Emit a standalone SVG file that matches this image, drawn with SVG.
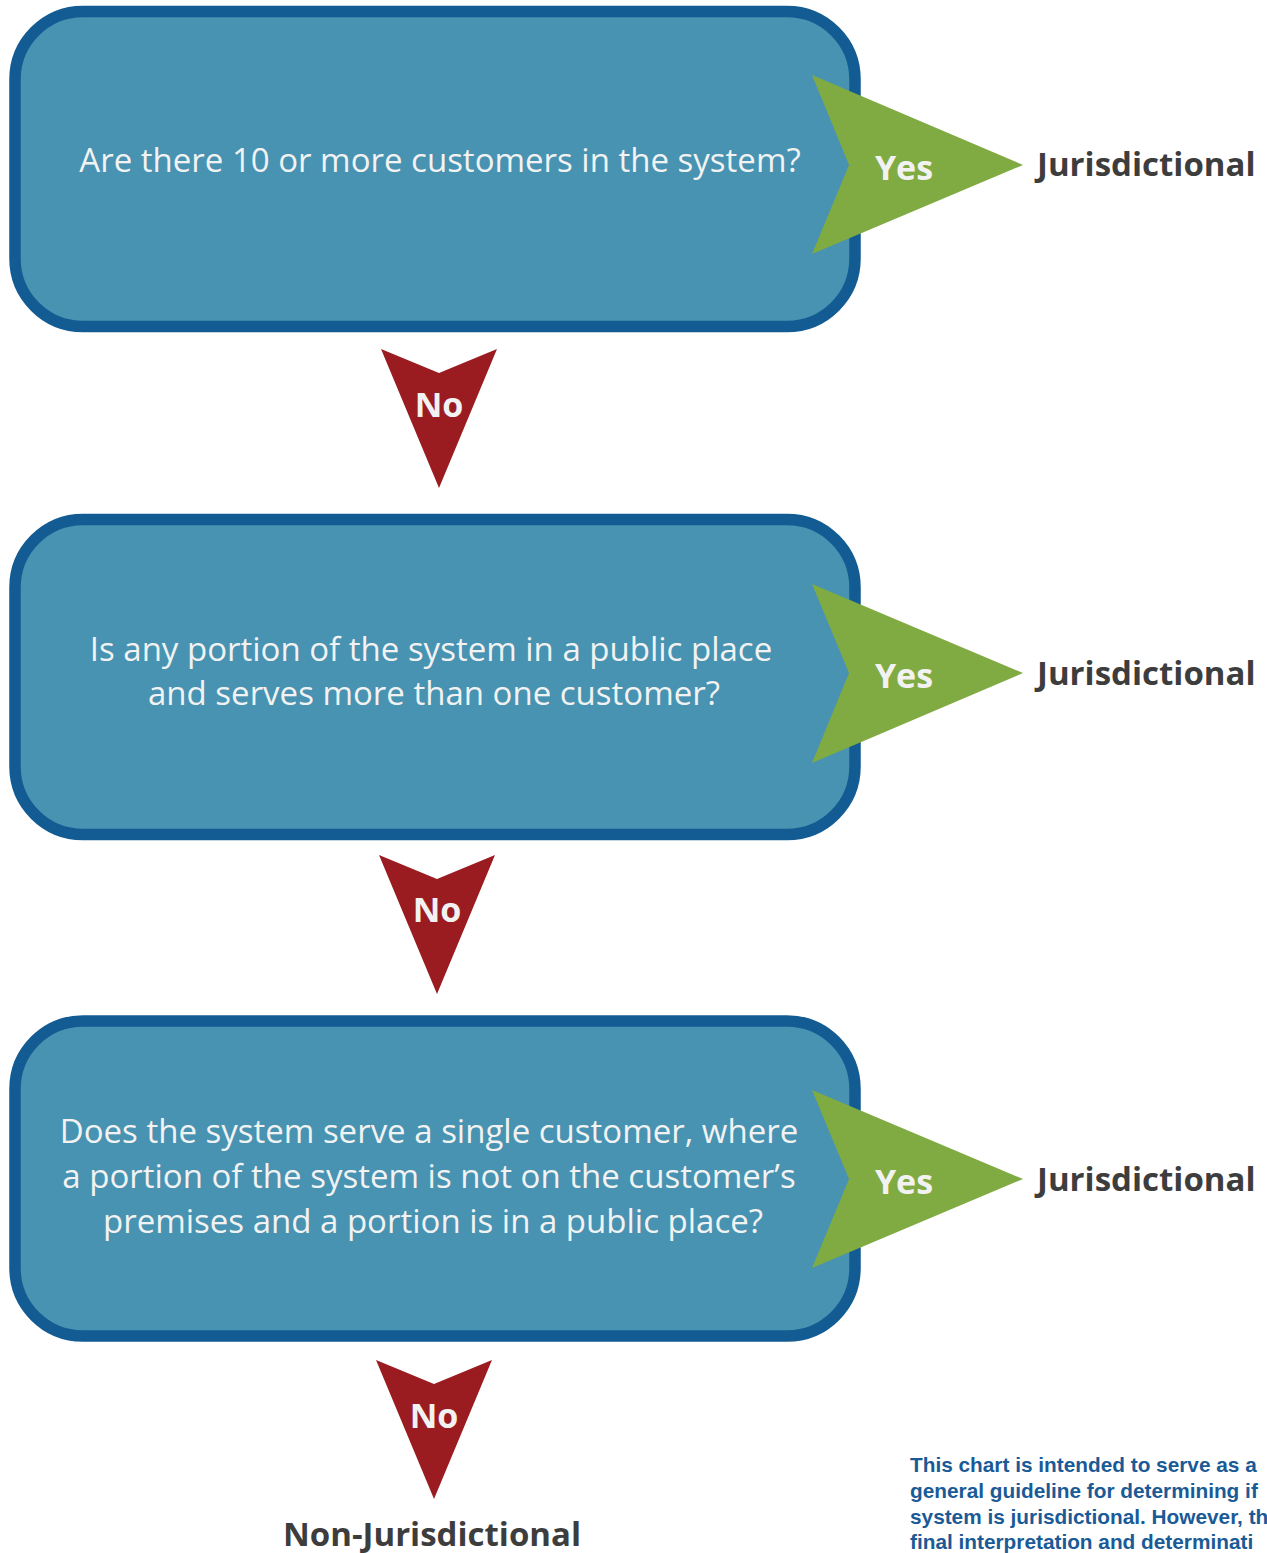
<svg xmlns="http://www.w3.org/2000/svg" width="1267" height="1553" viewBox="0 0 1267 1553">
<style>
.box{fill:#4793b1;stroke:#135c93;stroke-width:11.5}
.q{font-family:"Open Sans","Liberation Sans",sans-serif;font-size:33px;fill:#f2f2f2;text-anchor:middle}
.yes{fill:#80aa42}
.no{fill:#9b1c20}
.lbl{font-family:"Open Sans","Liberation Sans",sans-serif;font-weight:bold;font-size:34px;fill:#f2f2f2;text-anchor:middle}
.res{font-family:"Open Sans","Liberation Sans",sans-serif;font-weight:bold;font-size:33px;fill:#3d3d3d}
.note{font-family:"Liberation Sans",Arial,sans-serif;font-weight:bold;font-size:20.8px;fill:#1a5a96}
</style>
<rect width="1267" height="1553" fill="#ffffff"/>
<g id="q1">
<rect class="box" x="15" y="11.5" width="840" height="315" rx="68"/>
<text class="q" x="440" y="172">Are there 10 or more customers in the system?</text>
</g>
<g id="q2">
<rect class="box" x="15" y="519.5" width="840" height="315" rx="68"/>
<text class="q" x="431" y="661">Is any portion of the system in a public place</text>
<text class="q" x="434" y="705">and serves more than one customer?</text>
</g>
<g id="q3">
<rect class="box" x="15" y="1021" width="840" height="315" rx="68"/>
<text class="q" x="429" y="1143">Does the system serve a single customer, where</text>
<text class="q" x="429" y="1188">a portion of the system is not on the customer’s</text>
<text class="q" x="433" y="1233">premises and a portion is in a public place?</text>
</g>
<g id="connectors">
<polygon class="yes" points="812,75 1023,165 812,254 849,165"/>
<text class="lbl" x="904" y="180">Yes</text>
<polygon class="yes" points="812,584 1023,673 812,763 849,673"/>
<text class="lbl" x="904" y="688">Yes</text>
<polygon class="yes" points="812,1090 1023,1179 812,1268 849,1179"/>
<text class="lbl" x="904" y="1194">Yes</text>
<polygon class="no" points="381,349 439,373 497,349 439,488"/>
<text class="lbl" x="439" y="417">No</text>
<polygon class="no" points="379,855 437,879 495,855 437,994"/>
<text class="lbl" x="437" y="922">No</text>
<polygon class="no" points="376,1360 434,1384 492,1360 434,1499"/>
<text class="lbl" x="434" y="1428">No</text>
</g>
<g id="r1"><text class="res" x="1037" y="176">Jurisdictional</text></g>
<g id="r2"><text class="res" x="1037" y="685">Jurisdictional</text></g>
<g id="r3"><text class="res" x="1037" y="1191">Jurisdictional</text></g>
<g id="r4"><text class="res" x="432" y="1546" text-anchor="middle">Non-Jurisdictional</text></g>
<g id="note">
<text class="note" x="910" y="1472">This chart is intended to serve as a</text>
<text class="note" x="910" y="1498">general guideline for determining if</text>
<text class="note" x="910" y="1524">system is jurisdictional. However, th</text>
<text class="note" x="910" y="1549">final interpretation and determinati</text>
</g>
</svg>
